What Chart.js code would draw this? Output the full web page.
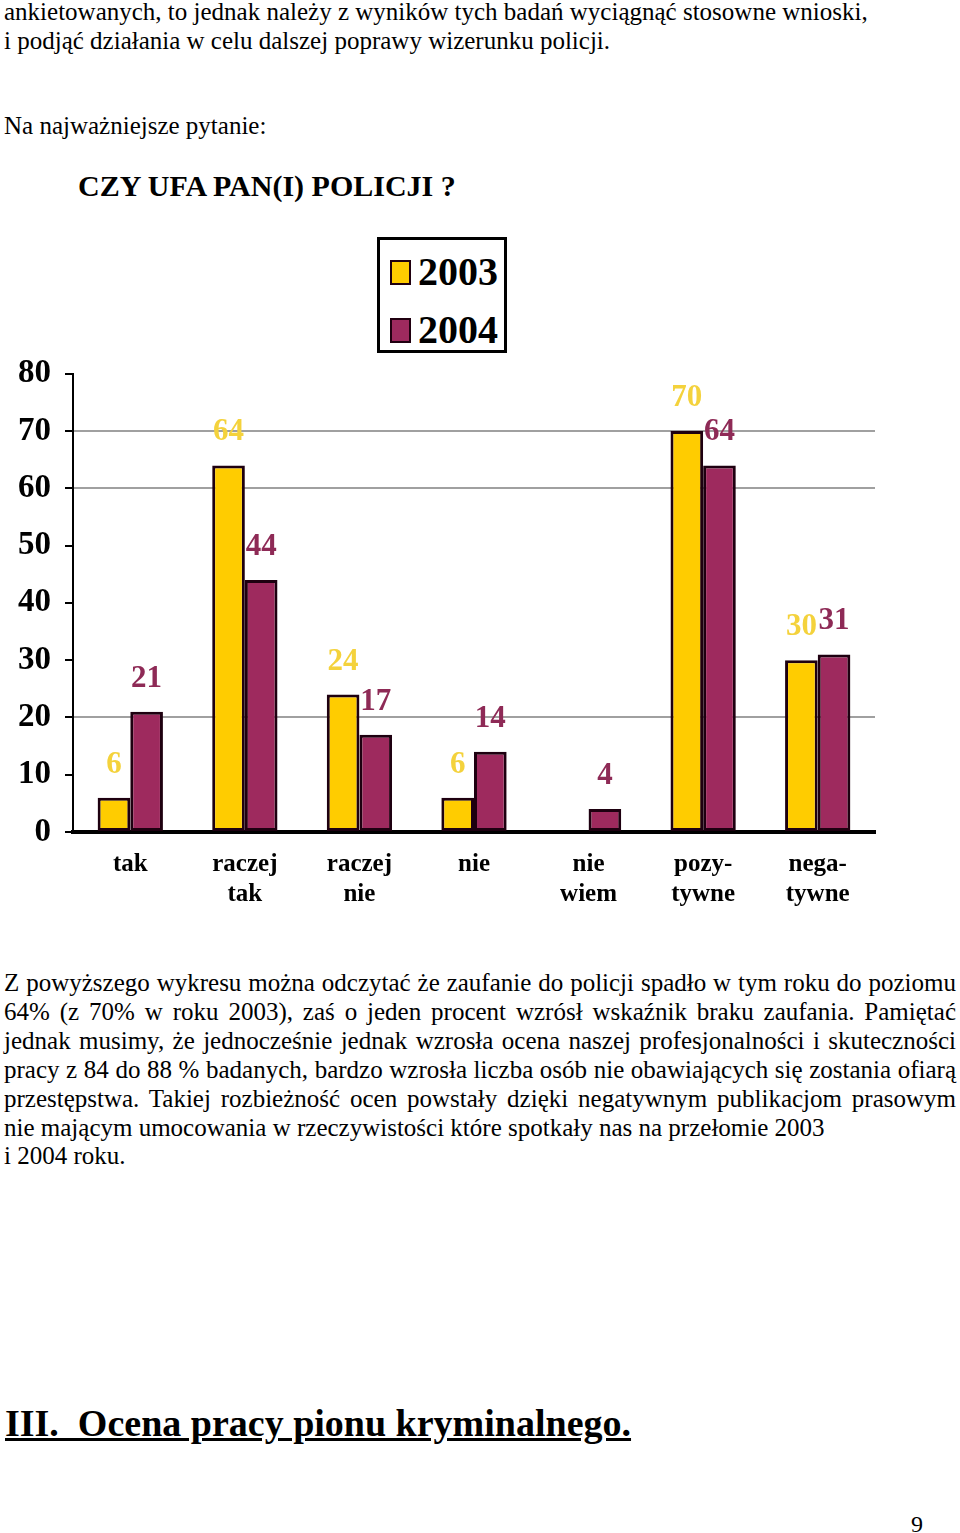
<!DOCTYPE html>
<html><head><meta charset="utf-8">
<script src="https://cdn.jsdelivr.net/npm/chart.js@4/dist/chart.umd.min.js"></script>
<style>
html,body{margin:0;padding:0;background:#fff;}
body{width:960px;height:1533px;position:relative;overflow:hidden;font-family:"Liberation Serif","DejaVu Serif",serif;color:#000;}
.t{position:absolute;font-size:25px;line-height:29px;white-space:nowrap;}
.j{position:absolute;left:4px;width:952px;font-size:25px;line-height:29px;text-align:justify;text-align-last:justify;white-space:nowrap;}
#title{position:absolute;left:78px;top:168px;font-size:30px;font-weight:bold;line-height:36px;white-space:nowrap;}
#legend{position:absolute;left:377px;top:237px;width:124px;height:110px;border:3px solid #000;background:#fff;}
.li{position:absolute;left:10px;height:40px;display:flex;align-items:center;}
.sw{width:21px;height:25px;border:2px solid #200010;margin-right:7px;box-sizing:border-box;}
.lt{font-size:40px;font-weight:bold;line-height:40px;}
#chartWrap{position:absolute;left:0;top:340px;width:960px;height:580px;}
#h3{position:absolute;left:5px;top:1402px;font-size:38px;font-weight:bold;text-decoration:underline;line-height:42px;white-space:pre;}
#pg{position:absolute;left:911px;top:1510px;font-size:24px;line-height:28px;}
</style></head>
<body>
<div class="t" style="left:4px;top:-3px;">ankietowanych, to jednak należy z wyników tych badań wyciągnąć stosowne wnioski,</div>
<div class="t" style="left:4px;top:26px;">i podjąć działania w celu dalszej poprawy wizerunku policji.</div>
<div class="t" style="left:4px;top:111px;">Na najważniejsze pytanie:</div>
<div id="title">CZY UFA PAN(I) POLICJI ?</div>
<div id="chartWrap"><canvas id="c" width="960" height="580"></canvas></div>
<div id="legend"></div>
<div class="j" style="top:968px;">Z powyższego wykresu można odczytać że zaufanie do policji spadło w tym roku do poziomu</div>
<div class="j" style="top:997px;">64% (z 70% w roku 2003), zaś o jeden procent wzrósł wskaźnik braku zaufania. Pamiętać</div>
<div class="j" style="top:1026px;">jednak musimy, że jednocześnie jednak wzrosła ocena naszej profesjonalności i skuteczności</div>
<div class="j" style="top:1055px;">pracy z 84 do 88 % badanych, bardzo wzrosła liczba osób nie obawiających się zostania ofiarą</div>
<div class="j" style="top:1084px;">przestępstwa. Takiej rozbieżność ocen powstały dzięki negatywnym publikacjom prasowym</div>
<div class="t" style="left:4px;top:1113px;">nie mającym umocowania w rzeczywistości które spotkały nas na przełomie 2003</div>
<div class="t" style="left:4px;top:1141px;">i 2004 roku.</div>
<div id="h3">III.  Ocena pracy pionu kryminalnego.</div>
<div id="pg">9</div>
<script>
const categories = ['tak', ['raczej','tak'], ['raczej','nie'], 'nie', ['nie','wiem'], ['pozy-','tywne'], ['nega-','tywne']];
const seriesNames = ['2003', '2004'];
const values2003 = [6, 64, 24, 6, null, 70, 30];
const values2004 = [21, 44, 17, 14, 4, 64, 31];
const yTicks = [0, 10, 20, 30, 40, 50, 60, 70, 80];
const gridValues = [20, 60, 70];

const fillColors = ['#FFCC00', '#9E2A5E'];
const labelColors = ['#F4D23C', '#8E2A56'];

// legend
const lg = document.getElementById('legend');
seriesNames.forEach((n, i) => {
  const d = document.createElement('div');
  d.className = 'li';
  d.style.top = (i === 0 ? 12 : 70) + 'px';
  d.innerHTML = '<div class="sw" style="background:' + fillColors[i] + '"></div><div class="lt">' + n + '</div>';
  lg.appendChild(d);
});

const valueLabels = {
  id: 'valueLabels',
  afterDatasetsDraw(chart) {
    const ctx = chart.ctx;
    ctx.save();
    ctx.font = 'bold 31px "Liberation Serif", serif';
    ctx.textAlign = 'center';
    ctx.textBaseline = 'middle';
    chart.data.datasets.forEach((ds, di) => {
      const meta = chart.getDatasetMeta(di);
      ctx.fillStyle = labelColors[di];
      meta.data.forEach((el, i) => {
        const v = ds.data[i];
        if (v === null || v === undefined) return;
        ctx.fillText(String(v), el.x, el.y - 33);
      });
    });
    ctx.restore();
  }
};

new Chart(document.getElementById('c'), {
  type: 'bar',
  data: {
    labels: categories,
    datasets: [
      { label: seriesNames[0], data: values2003, backgroundColor: fillColors[0], borderColor: '#1E0010', borderWidth: 3, borderSkipped: false, categoryPercentage: 0.57, barPercentage: 1.0 },
      { label: seriesNames[1], data: values2004, backgroundColor: fillColors[1], borderColor: '#1E0010', borderWidth: 3, borderSkipped: false, categoryPercentage: 0.57, barPercentage: 1.0 }
    ]
  },
  options: {
    responsive: false,
    animation: false,
    layout: { padding: { left: 0, right: 85, top: 33, bottom: 0 } },
    plugins: { legend: { display: false }, tooltip: { enabled: false } },
    scales: {
      x: {
        grid: { display: false },
        border: { display: true, color: '#000', width: 4 },
        ticks: { color: '#000', font: { family: '"Liberation Serif", serif', size: 25, weight: 'bold', lineHeight: 1.2 }, padding: 10, maxRotation: 0, autoSkip: false },
        afterFit(s) { s.height = 88; }
      },
      y: {
        min: 0, max: 80,
        afterBuildTicks(s) { s.ticks = yTicks.map(v => ({ value: v })); },
        grid: {
          color: c => gridValues.includes(c.tick && c.tick.value) ? '#A0A0A0' : 'rgba(0,0,0,0)',
          lineWidth: 2,
          tickColor: '#000',
          tickLength: 8,
          drawTicks: true
        },
        border: { display: true, color: '#000', width: 2 },
        ticks: { color: '#000', font: { family: '"Liberation Serif", serif', size: 33, weight: 'bold' }, padding: 14 },
        afterFit(s) { s.width = 73; }
      }
    }
  },
  plugins: [valueLabels]
});
</script>
</body></html>
